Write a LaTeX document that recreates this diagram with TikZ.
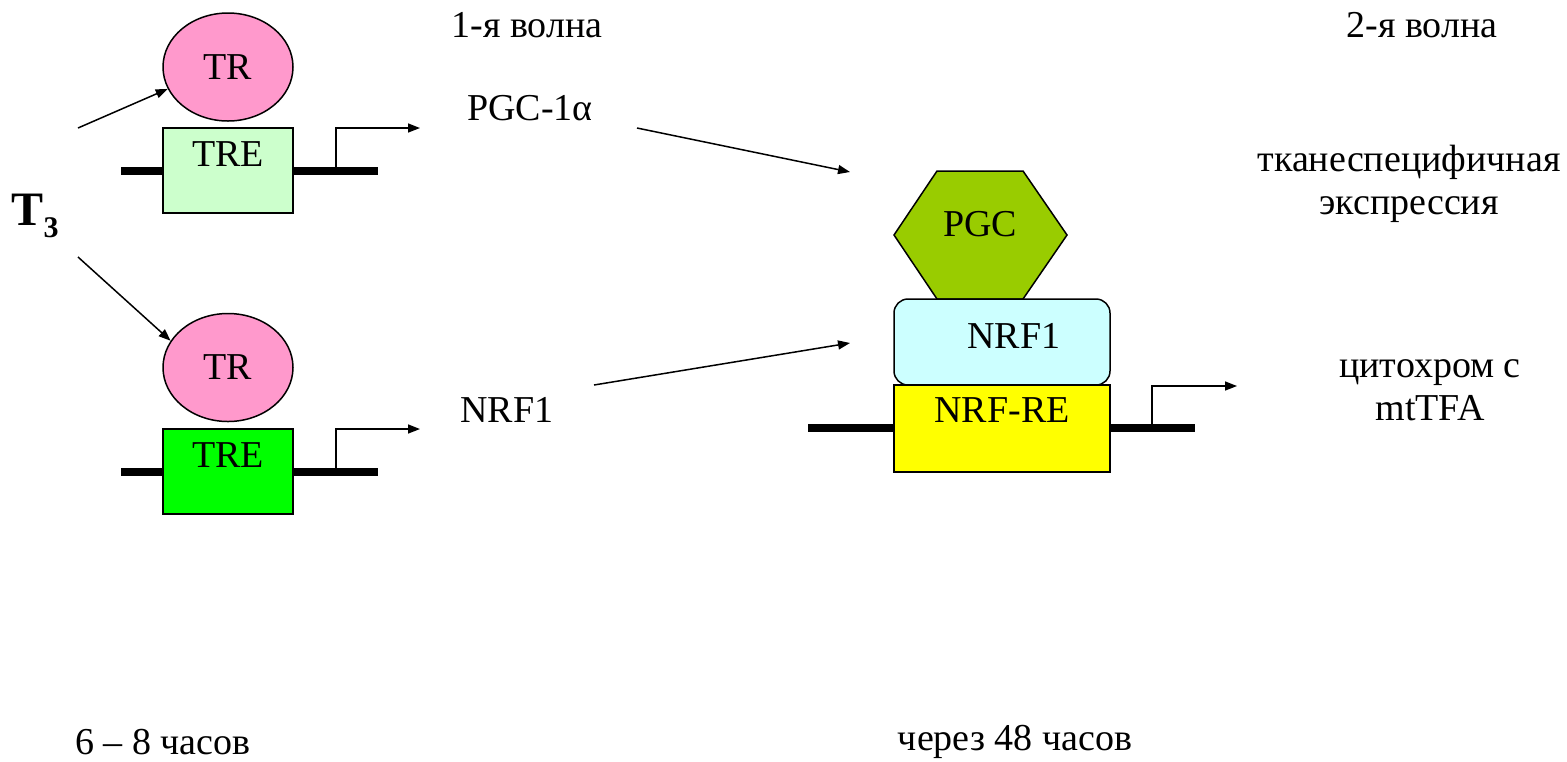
\documentclass[tikz,border=0pt]{standalone}
\usepackage{fontspec}
\setmainfont{LiberationSerif}[
  Extension=.ttf,
  UprightFont=*-Regular,
  BoldFont=*-Bold,
  ItalicFont=*-Italic,
  BoldItalicFont=*-BoldItalic]
\usetikzlibrary{arrows.meta}
\usetikzlibrary{shapes.geometric}
\usetikzlibrary{positioning}
\definecolor{mpink}{HTML}{FF99CC}
\definecolor{mpale}{HTML}{CCFFCC}
\definecolor{mgreen}{HTML}{00FF00}
\definecolor{molive}{HTML}{99CC00}
\definecolor{mcyan}{HTML}{CCFFFF}
\definecolor{myellow}{HTML}{FFFF00}

\tikzset{
  receptor/.style={ellipse, draw, fill=mpink, minimum width=65pt, minimum height=54pt, inner sep=0pt},
  element/.style={draw, minimum width=65pt, inner sep=0pt, text height=19pt, text depth=23.5pt},
  dna/.style={line width=4pt},
  caption/.style={align=center}
}

\begin{document}
\begin{tikzpicture}[x=0.5pt, y=-0.5pt, line width=0.75pt,
    font=\rmfamily\fontsize{19}{21.5}\selectfont,
    >={Triangle[length=6pt, width=4.5pt]}]
    \useasboundingbox (0,0) rectangle (1567,761);

    % first wave
    \node (t3) at (35,216) {\fontsize{24}{28}\selectfont\textbf{T\raisebox{-6pt}{\fontsize{15}{15}\selectfont 3}}};

    \draw [dna] (121,171) -- (378,171);
    \draw [dna] (121,472) -- (378,472);

    \node [receptor] (tr1) at (228,67) {TR};
    \node [element, fill=mpale] (tre1) at (228,170.5) {TRE};
    \node [receptor] (tr2) at (228,367.5) {TR};
    \node [element, fill=mgreen] (tre2) at (228,471.5) {TRE};

    \coordinate (t3up) at (78,128);
    \coordinate (t3down) at (78,257);
    \draw [->] (t3up) -- (tr1.200);
    \draw [->] (t3down) -- (tr2.155);

    \coordinate (prom1) at (336,171);
    \coordinate (out1) at (420,128);
    \coordinate (prom2) at (336,472);
    \coordinate (out2) at (420,429);
    \draw [->] (prom1) |- (out1);
    \draw [->] (prom2) |- (out2);

    \node (wave1) at (527,25) {1-я волна};
    \node (pgcla) at (530,108) {PGC-1α};
    \node (nrfla) at (507,410) {NRF1};

    % second wave
    \draw [dna] (808,428) -- (1195,428);

    \draw [fill=molive] (937,171) -- (1023,171) -- (1067,235) -- (1023,299)
        -- (937,299) -- (894,235) -- cycle;
    \node (pgc) at (980,224) {PGC};

    \node [draw, fill=mcyan, rounded corners=7pt, minimum width=108pt, inner sep=0pt,
        text height=24.5pt, text depth=18.5pt] (nrf) at (1002,342) {\hspace{12pt}NRF1};
    \node [draw, fill=myellow, minimum width=108pt, inner sep=0pt,
        text height=18.5pt, text depth=25pt] (nrfre) at (1002,428.5) {NRF-RE};

    \coordinate (pgcfrom) at (637,128);
    \coordinate (pgcto) at (850,172);
    \coordinate (nrffrom) at (594,385);
    \coordinate (nrfto) at (850,343);
    \draw [->] (pgcfrom) -- (pgcto);
    \draw [->] (nrffrom) -- (nrfto);

    \coordinate (prom3) at (1152,428);
    \coordinate (out3) at (1237,386);
    \draw [->] (prom3) |- (out3);

    \node (wave2) at (1422,25) {2-я волна};
    \node [caption] (tissue) at (1409,184) {тканеспецифичная\\экспрессия};
    \node [caption] (targets) at (1430,390) {цитохром с\\mtTFA};

    % time
    \node (early) at (163,742) {6 – 8 часов};
    \node (late) at (1015,742) {через 48 часов};
\end{tikzpicture}
\end{document}
